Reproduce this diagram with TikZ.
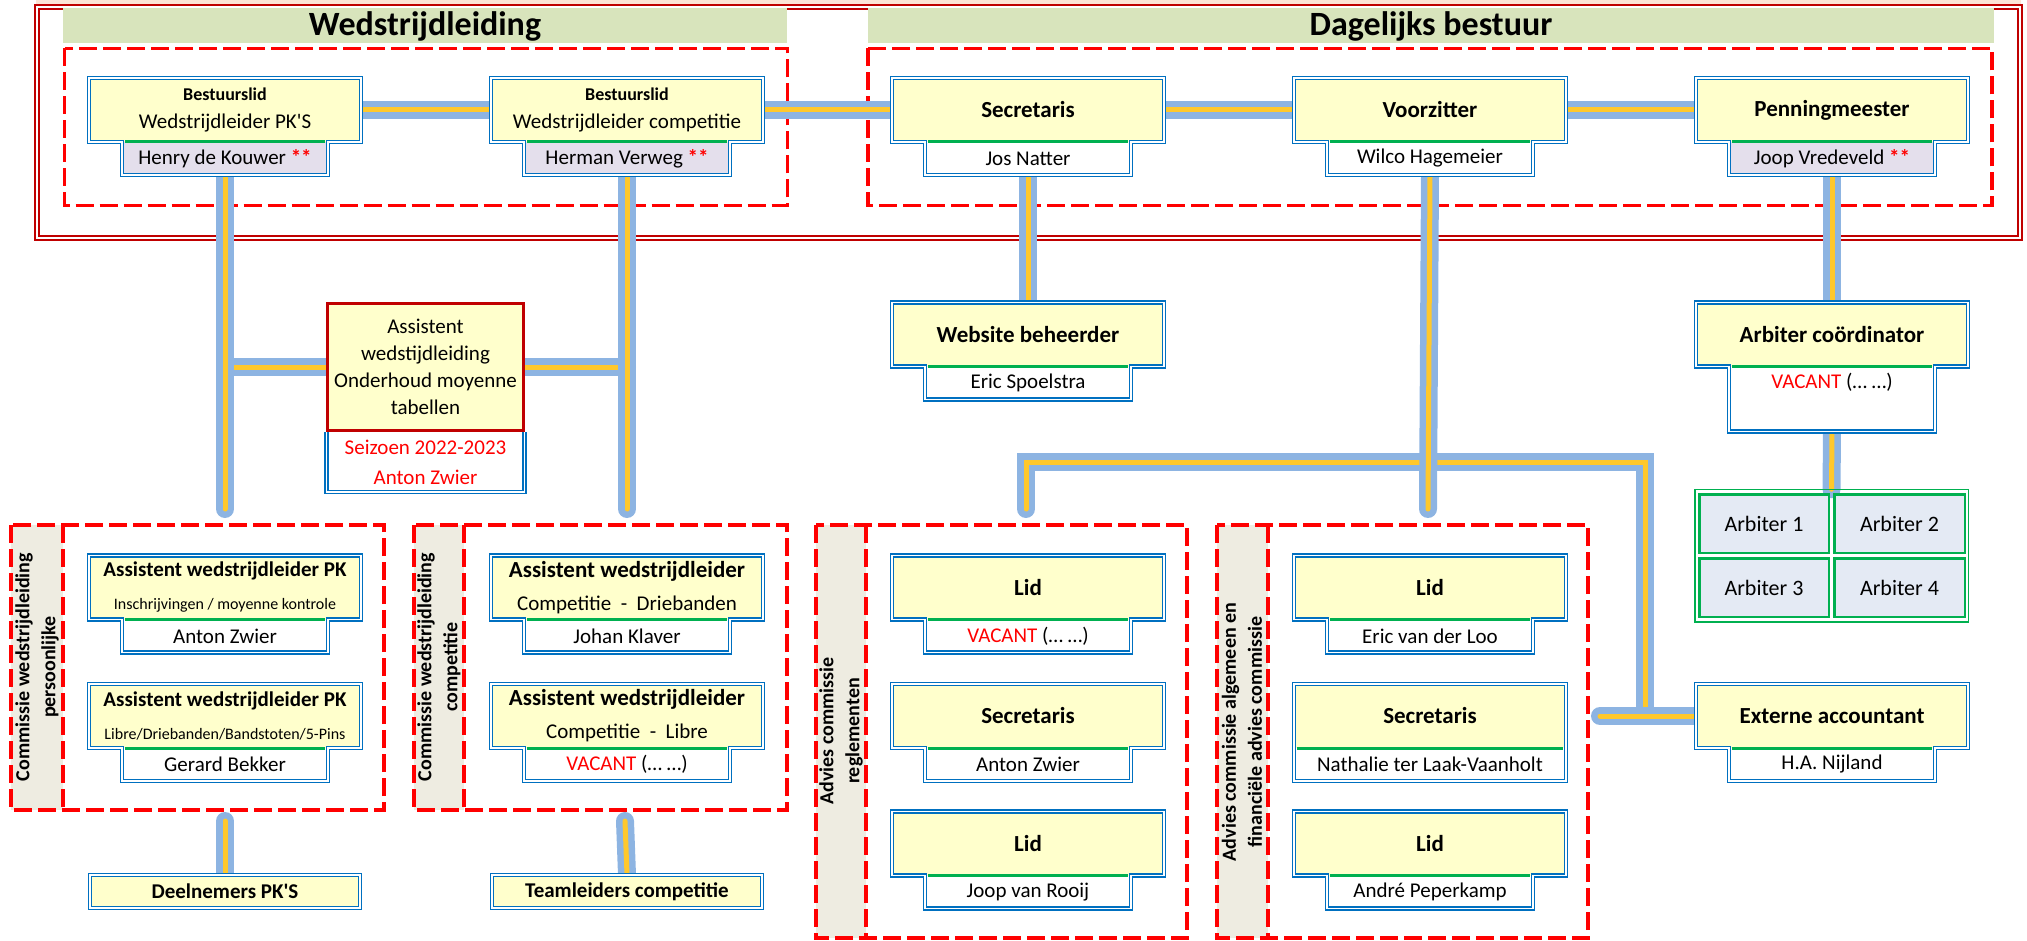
\documentclass[tikz,border=0pt]{standalone}
\usepackage{fontspec}
\setmainfont{Carlito}[Ligatures=TeXOff]
\usetikzlibrary{positioning}
\definecolor{cc00000}{RGB}{192,0,0}
\definecolor{cff0000}{RGB}{255,0,0}
\definecolor{c0070c0}{RGB}{0,112,192}
\definecolor{c00b050}{RGB}{0,176,80}
\definecolor{cffffcc}{RGB}{255,255,204}
\definecolor{ce4dfec}{RGB}{228,223,236}
\definecolor{cd8e4bc}{RGB}{216,228,188}
\definecolor{ceeece1}{RGB}{238,236,225}
\definecolor{c8db4e2}{RGB}{141,180,226}
\definecolor{cffc82c}{RGB}{255,200,44}
\definecolor{cfce4d6}{RGB}{252,228,214}
\definecolor{ce4eaf4}{RGB}{228,234,244}

\pgfdeclarelayer{achter}
\pgfdeclarelayer{lijnen}
\pgfsetlayers{achter,lijnen,main}

\tikzset{
  titel/.style={fill=cffffcc,minimum width=272pt,minimum height=64pt,align=center,
    font=\bfseries\fontsize{23}{28}\selectfont},
  naam/.style={fill=white,minimum width=206pt,minimum height=33pt,align=center,
    font=\fontsize{21}{30}\selectfont},
  rand/.style={draw=c0070c0,double=white,double distance=1.5pt,line width=1.5pt},
  scheiding/.style={draw=c00b050,line width=3pt},
  verbinding/.style={draw=c8db4e2,double=cffc82c,double distance=5pt,line width=6.5pt,
    line cap=round},
  commissie/.style={draw=cff0000,line width=3.5pt,dash pattern=on 18pt off 6pt},
  zijbalk/.style={fill=ceeece1},
  zijtekst/.style={rotate=90,align=center,font=\bfseries\fontsize{20}{26}\selectfont},
  kop/.style={font=\bfseries\fontsize{34}{38}\selectfont},
  arbiter/.style={draw=c00b050,line width=2.5pt,fill=ce4eaf4,minimum width=129.5pt,
    minimum height=58.5pt,font=\fontsize{22}{26}\selectfont}
}

\newcommand{\ster}{\textcolor{cff0000}{\bfseries **}}
\newcommand{\vacant}{\textcolor{cff0000}{VACANT} (… …)}
\newcommand{\omlijn}[2]{%
  \path[rand] (#1.north west) -- (#1.north east) -- (#1.south east) --
    (#2.north east) -- (#2.south east) -- (#2.south west) --
    (#2.north west) -- (#1.south west) -- cycle;
  \path[scheiding] ([xshift=3pt]#2.north west) -- ([xshift=-3pt]#2.north east);}

\begin{document}
\begin{tikzpicture}[x=1pt,y=1pt,yscale=-1,inner sep=0pt,outer sep=0pt]
\useasboundingbox (0,0) rectangle (2027,941);

\begin{pgfonlayer}{achter}
  \path[fill=cfce4d6] (36,0) rectangle (2021,5);
  \path[draw=cc00000,double=white,double distance=2pt,line width=2pt]
    (37,7) rectangle (2019.5,238);
  \path[fill=cd8e4bc] (63,8) rectangle (787,43);
  \path[fill=cd8e4bc] (868,8) rectangle (1994,43);
  \path[commissie] (64.5,48.5) rectangle (787.5,205.5);
  \path[commissie] (868,48.5) rectangle (1992,205.5);
  % commissies onderaan
  \path[zijbalk] (11,525) rectangle (63,810);
  \path[commissie] (63,525) -- (63,810);
  \path[commissie] (11,525) rectangle (384,810);
  \path[zijbalk] (414,525) rectangle (464,810);
  \path[commissie] (464,525) -- (464,810);
  \path[commissie] (414,525) rectangle (787,810);
  \path[zijbalk] (816,525) rectangle (866,938);
  \path[commissie] (866,525) -- (866,938);
  \path[commissie] (816,525) rectangle (1187,938);
  \path[zijbalk] (1217,525) rectangle (1268,938);
  \path[commissie] (1268,525) -- (1268,938);
  \path[commissie] (1217,525) rectangle (1588,938);
\end{pgfonlayer}

\path (425,26) node[kop] (wl) {Wedstrijdleiding};
\path (1431,26) node[kop] (db) {Dagelijks bestuur};

\path (37,667) node[zijtekst] (cwp) {Commissie wedstrijdleiding\\persoonlijke};
\path (439,667) node[zijtekst] (cwc) {Commissie wedstrijdleiding\\competitie};
\path (841,731) node[zijtekst] (acr) {Advies commissie\\reglementen};
\path (1242,732) node[zijtekst] (aca) {Advies commissie algemeen en\\financiële advies commissie};

% bestuur
\path (225,110) node[titel,font=\fontsize{21}{28}\selectfont] (pks)
  {{\bfseries\fontsize{18}{22}\selectfont Bestuurslid}\\Wedstrijdleider PK'S};
\path node[naam,fill=ce4dfec,below=0pt of pks] (pksN) {Henry de Kouwer \ster};
\omlijn{pks}{pksN}
\path (627,110) node[titel,font=\fontsize{21}{28}\selectfont] (comp)
  {{\bfseries\fontsize{18}{22}\selectfont Bestuurslid}\\Wedstrijdleider competitie};
\path node[naam,fill=ce4dfec,below=0pt of comp] (compN) {Herman Verweg \ster};
\omlijn{comp}{compN}
\path (1028,110) node[titel] (secr) {Secretaris};
\path node[naam,below=0pt of secr] (secrN) {Jos Natter};
\omlijn{secr}{secrN}
\path (1430,110) node[titel] (voorz) {Voorzitter};
\path node[naam,below=0pt of voorz] (voorzN) {Wilco Hagemeier};
\omlijn{voorz}{voorzN}
\path (1832,110) node[titel] (penn) {Penningmeester};
\path node[naam,fill=ce4dfec,below=0pt of penn] (pennN) {Joop Vredeveld \ster};
\omlijn{penn}{pennN}

\path (425.5,367) node[draw=cc00000,line width=3pt,fill=cffffcc,minimum width=196pt,
  minimum height=127pt,align=center,font=\fontsize{21}{27}\selectfont] (assist)
  {Assistent\\wedstijdleiding\\Onderhoud moyenne\\tabellen};
\path node[naam,minimum width=198pt,minimum height=60pt,text=cff0000,below=1.5pt of assist]
  (assistN) {Seizoen 2022-2023\\Anton Zwier};
\path[rand] (assistN.north west) -- (assistN.south west) -- (assistN.south east)
  -- (assistN.north east);

\path (1028,334.5) node[titel] (web) {Website beheerder};
\path node[naam,below=0pt of web] (webN) {Eric Spoelstra};
\omlijn{web}{webN}
\path (1832,334.5) node[titel] (arb) {Arbiter coördinator};
\path node[naam,text height=22pt,text depth=43pt,below=0pt of arb] (arbN) {\vacant};
\omlijn{arb}{arbN}

\path (1831.5,555.5) node[draw=c00b050,line width=1.5pt,minimum width=273.5pt,
  minimum height=132.5pt] (arbiters) {};
\path (1764,523.5) node[arbiter] (arb1) {Arbiter 1};
\path (1899.5,523.5) node[arbiter,minimum width=130.5pt] (arb2) {Arbiter 2};
\path (1764,587.5) node[arbiter] (arb3) {Arbiter 3};
\path (1899.5,587.5) node[arbiter,minimum width=130.5pt] (arb4) {Arbiter 4};

% commissie wedstrijdleiding
\path (225,587.5) node[titel,font=\bfseries\fontsize{21}{33}\selectfont] (awp1)
  {Assistent wedstrijdleider PK\\{\mdseries\fontsize{16}{20}\selectfont Inschrijvingen / moyenne kontrole}};
\path node[naam,below=0pt of awp1] (awp1N) {Anton Zwier};
\omlijn{awp1}{awp1N}
\path (225,716) node[titel,font=\bfseries\fontsize{21}{33}\selectfont] (awp2)
  {Assistent wedstrijdleider PK\\{\mdseries\fontsize{16}{20}\selectfont Libre/Driebanden/Bandstoten/5-Pins}};
\path node[naam,below=0pt of awp2] (awp2N) {Gerard Bekker};
\omlijn{awp2}{awp2N}
\path (627,587.5) node[titel,font=\bfseries\fontsize{23}{33}\selectfont] (awc1)
  {Assistent wedstrijdleider\\{\mdseries\fontsize{21}{25}\selectfont Competitie\ \ -\ \ Driebanden}};
\path node[naam,below=0pt of awc1] (awc1N) {Johan Klaver};
\omlijn{awc1}{awc1N}
\path (627,716) node[titel,font=\bfseries\fontsize{23}{33}\selectfont] (awc2)
  {Assistent wedstrijdleider\\{\mdseries\fontsize{21}{25}\selectfont Competitie\ \ -\ \ Libre}};
\path node[naam,below=0pt of awc2] (awc2N) {\vacant};
\omlijn{awc2}{awc2N}
\path (225,891.5) node[titel,rand,minimum width=270pt,minimum height=33pt,
  font=\bfseries\fontsize{21}{25}\selectfont] (deeln) {Deelnemers PK'S};
\path (627,891.5) node[titel,rand,minimum width=270pt,minimum height=33pt,
  font=\bfseries\fontsize{21}{25}\selectfont] (team) {Teamleiders competitie};

% advies commissies
\path (1028,587.5) node[titel] (acr1) {Lid};
\path node[naam,below=0pt of acr1] (acr1N) {\vacant};
\omlijn{acr1}{acr1N}
\path (1028,716) node[titel] (acr2) {Secretaris};
\path node[naam,below=0pt of acr2] (acr2N) {Anton Zwier};
\omlijn{acr2}{acr2N}
\path (1028,843.5) node[titel] (acr3) {Lid};
\path node[naam,below=0pt of acr3] (acr3N) {Joop van Rooij};
\omlijn{acr3}{acr3N}
\path (1430,587.5) node[titel] (aca1) {Lid};
\path node[naam,below=0pt of aca1] (aca1N) {Eric van der Loo};
\omlijn{aca1}{aca1N}
\path (1430,716) node[titel] (aca2) {Secretaris};
\path node[naam,minimum width=272pt,below=0pt of aca2] (aca2N) {Nathalie ter Laak-Vaanholt};
\omlijn{aca2}{aca2N}
\path (1430,843.5) node[titel] (aca3) {Lid};
\path node[naam,below=0pt of aca3] (aca3N) {André Peperkamp};
\omlijn{aca3}{aca3N}
\path (1832,716) node[titel] (ext) {Externe accountant};
\path node[naam,below=0pt of ext] (extN) {H.A. Nijland};
\omlijn{ext}{extN}

\coordinate (pkEind) at (225,509);
\coordinate (compEind) at (627,509);
\coordinate (pkBegin) at (225,821);
\coordinate (compBegin) at (625,821);
\coordinate (vzEind) at (1428,509);
\coordinate (reglEind) at (1026,509);
\coordinate (splits) at (1645,462);
\coordinate (extBoven) at (1645,708);
\coordinate (extLinks) at (1600,716);

\begin{pgfonlayer}{lijnen}
  \path[verbinding] (pks.east) -- (comp.west);
  \path[verbinding] (comp.east) -- (secr.west);
  \path[verbinding] (secr.east) -- (voorz.west);
  \path[verbinding] (voorz.east) -- (penn.west);
  \path[verbinding] (assist.west) -- (pksN.south |- assist.west);
  \path[verbinding] (assist.east) -- (compN.south |- assist.east);
  \path[verbinding] (pksN.south) -- (pkEind);
  \path[verbinding] (compN.south) -- (compEind);
  \path[verbinding] (secrN.south) -- (web.north);
  \path[verbinding] (pennN.south) -- (arb.north);
  \path[verbinding] (arbN.south) -- (arbiters.north);
  \path[verbinding] (reglEind) |- (splits) -- (extBoven);
  \path[verbinding] (voorzN.south) -- (vzEind);
  \path[verbinding] (extLinks) -- (ext.west);
  \path[verbinding] (pkBegin) -- (deeln.north);
  \path[verbinding] (compBegin) -- (team.north);
\end{pgfonlayer}
\end{tikzpicture}
\end{document}
